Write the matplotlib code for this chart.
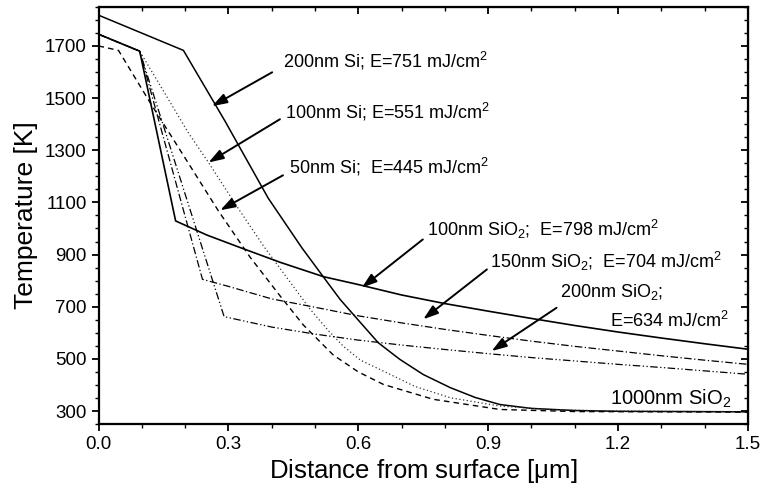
import matplotlib
matplotlib.use("Agg")
import matplotlib.pyplot as plt
from matplotlib.ticker import MultipleLocator, FixedLocator

plt.rcParams['font.family'] = ['Liberation Sans', 'DejaVu Sans']
plt.rcParams['mathtext.fontset'] = 'custom'
plt.rcParams['mathtext.rm'] = 'Liberation Sans'
plt.rcParams['mathtext.it'] = 'Liberation Sans'

# Temperature profiles (depth in um, temperature in K)
si200_x = [0, 0.196, 0.292, 0.392, 0.47, 0.519, 0.558, 0.604, 0.646, 0.696, 0.75, 0.812, 0.87, 0.927, 1.0, 1.1, 1.2, 1.5]
si200_y = [1818, 1683, 1412, 1116, 925, 815, 728, 641, 562, 498, 440, 390, 352, 325, 310, 302, 299, 297]

si100_x = [0, 0.095, 0.207, 0.254, 0.319, 0.381, 0.44, 0.489, 0.53, 0.565, 0.605, 0.658, 0.73, 0.812, 0.927, 1.05, 1.2, 1.5]
si100_y = [1745, 1680, 1368, 1253, 1086, 933, 800, 690, 610, 549, 495, 453, 395, 351, 319, 305, 300, 297]

si50_x = [0, 0.046, 0.119, 0.2, 0.277, 0.35, 0.42, 0.473, 0.542, 0.6, 0.658, 0.773, 0.927, 1.1, 1.5]
si50_y = [1700, 1683, 1483, 1270, 1067, 890, 740, 630, 515, 450, 402, 345, 306, 298, 296]

ox100_x = [0, 0.095, 0.178, 0.25, 0.33, 0.42, 0.52, 0.6, 0.7, 0.8, 0.9, 1.0, 1.1, 1.2, 1.3, 1.4, 1.5]
ox100_y = [1745, 1680, 1029, 975, 925, 870, 815, 785, 745, 712, 683, 655, 628, 603, 580, 558, 537]

ox150_x = [0, 0.095, 0.24, 0.3, 0.4, 0.5, 0.6, 0.7, 0.8, 0.9, 1.0, 1.1, 1.2, 1.3, 1.4, 1.5]
ox150_y = [1745, 1680, 805, 778, 730, 698, 665, 638, 613, 590, 568, 548, 530, 512, 495, 479]

ox200_x = [0, 0.095, 0.29, 0.4, 0.5, 0.6, 0.7, 0.8, 0.9, 1.0, 1.1, 1.2, 1.3, 1.4, 1.5]
ox200_y = [1745, 1680, 662, 622, 595, 572, 553, 536, 520, 505, 492, 479, 467, 454, 441]

y_ticks = [300, 500, 700, 900, 1100, 1300, 1500, 1700]
x_ticks = [0.0, 0.3, 0.6, 0.9, 1.2, 1.5]

fig = plt.figure(figsize=(7.64, 4.88), dpi=100)
ax = fig.add_axes([0.129, 0.131, 0.850, 0.855])

ax.plot(si200_x, si200_y, color='black', lw=1.1, ls='-')
ax.plot(si100_x, si100_y, color='#333333', lw=0.9, ls=(0, (1, 2)))
ax.plot(si50_x, si50_y, color='black', lw=1.0, ls=(0, (4, 3)))
ax.plot(ox100_x, ox100_y, color='black', lw=1.2, ls='-')
ax.plot(ox150_x, ox150_y, color='black', lw=0.9, ls=(0, (6, 2, 1, 2)))
ax.plot(ox200_x, ox200_y, color='black', lw=0.9, ls=(0, (6, 2, 1, 2, 1, 2)))

ax.set_xlim(0, 1.5)
ax.set_ylim(250, 1850)
ax.xaxis.set_major_locator(FixedLocator(x_ticks))
ax.xaxis.set_minor_locator(MultipleLocator(0.1))
ax.yaxis.set_major_locator(FixedLocator(y_ticks))
ax.yaxis.set_minor_locator(MultipleLocator(50))
ax.set_xticklabels([f"{v:.1f}" for v in x_ticks])
ax.set_yticklabels([str(v) for v in y_ticks])
ax.tick_params(which='major', direction='out', length=5, width=1.3, labelsize=13.5)
ax.tick_params(which='minor', direction='out', length=3, width=1.0)
for s in ax.spines.values():
    s.set_linewidth(1.6)

# inward ticks on the top and right frame
top = ax.secondary_xaxis('top')
top.xaxis.set_major_locator(FixedLocator(x_ticks))
top.xaxis.set_minor_locator(MultipleLocator(0.1))
top.tick_params(which='major', direction='in', length=5, width=1.3, labeltop=False)
top.tick_params(which='minor', direction='in', length=3, width=1.0)
right = ax.secondary_yaxis('right')
right.yaxis.set_major_locator(FixedLocator(y_ticks))
right.yaxis.set_minor_locator(MultipleLocator(50))
right.tick_params(which='major', direction='in', length=5, width=1.3, labelright=False)
right.tick_params(which='minor', direction='in', length=3, width=1.0)

ax.set_xlabel(r"Distance from surface [$\mathrm{\mu}$m]", fontsize=18.5, labelpad=3)
ax.set_ylabel("Temperature [K]", fontsize=19, labelpad=5)

arrow = dict(arrowstyle='-|>,head_length=0.9,head_width=0.3', lw=1.4, color='black', shrinkA=0, shrinkB=0)
fs = 13
ax.annotate('', xy=(0.262, 1469), xytext=(0.401, 1599), arrowprops=arrow)
ax.text(0.426, 1641, r"200nm Si; E=751 mJ/cm$^2$", fontsize=fs, va='center')
ax.annotate('', xy=(0.254, 1253), xytext=(0.419, 1419), arrowprops=arrow)
ax.text(0.431, 1446, r"100nm Si; E=551 mJ/cm$^2$", fontsize=fs, va='center')
ax.annotate('', xy=(0.281, 1070), xytext=(0.426, 1204), arrowprops=arrow)
ax.text(0.44, 1235, r"50nm Si;  E=445 mJ/cm$^2$", fontsize=fs, va='center')
ax.annotate('', xy=(0.608, 773), xytext=(0.749, 958), arrowprops=arrow)
ax.text(0.758, 997, r"100nm SiO$_2$;  E=798 mJ/cm$^2$", fontsize=fs, va='center')
ax.annotate('', xy=(0.750, 652), xytext=(0.897, 843), arrowprops=arrow)
ax.text(0.904, 874, r"150nm SiO$_2$;  E=704 mJ/cm$^2$", fontsize=fs, va='center')
ax.annotate('', xy=(0.908, 530), xytext=(1.058, 696), arrowprops=arrow)
ax.text(1.066, 755, r"200nm SiO$_2$;", fontsize=fs, va='center')
ax.text(1.181, 644, r"E=634 mJ/cm$^2$", fontsize=fs, va='center')
ax.text(1.181, 345, r"1000nm SiO$_2$", fontsize=14.5, va='center')

fig.savefig("out.png", dpi=100)
